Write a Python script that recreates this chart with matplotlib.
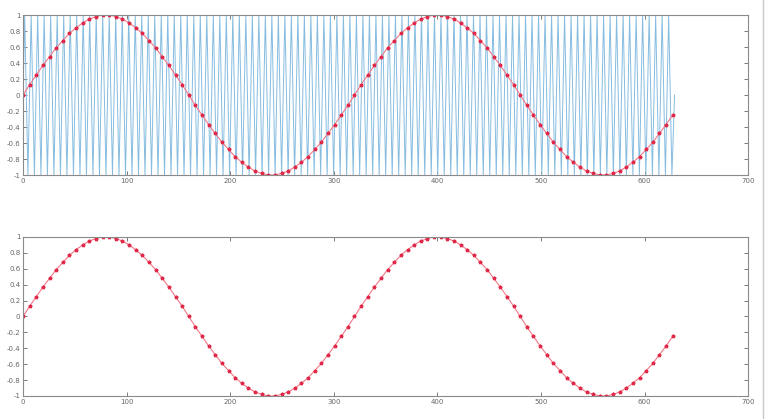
import matplotlib
matplotlib.use('Agg')
import matplotlib.pyplot as plt
import numpy as np

# red samples (every 6.4 units along x)
red_step = 6.4
red_y = [0.0, 0.13, 0.25, 0.37, 0.48, 0.59, 0.68, 0.77, 0.84, 0.90, 0.95, 0.98, 1.0,
         1.0, 0.98, 0.95, 0.90, 0.84, 0.77, 0.68, 0.59, 0.48, 0.37, 0.25, 0.13, 0.0,
         -0.13, -0.25, -0.37, -0.48, -0.59, -0.68, -0.77, -0.84, -0.90, -0.95, -0.98, -1.0,
         -1.0, -0.98, -0.95, -0.90, -0.84, -0.77, -0.68, -0.59, -0.48, -0.37, -0.25, -0.13,
         0.0, 0.13, 0.25, 0.37, 0.48, 0.59, 0.68, 0.77, 0.84, 0.90, 0.95, 0.98, 1.0,
         1.0, 0.98, 0.95, 0.90, 0.84, 0.77, 0.68, 0.59, 0.48, 0.37, 0.25, 0.13, 0.0,
         -0.13, -0.25, -0.37, -0.48, -0.59, -0.68, -0.77, -0.84, -0.90, -0.95, -0.98, -1.0,
         -1.0, -0.98, -0.95, -0.90, -0.84, -0.77, -0.68, -0.59, -0.48, -0.37, -0.25]
red_x = np.arange(len(red_y)) * red_step

# fast blue carrier: turning points every half period (~3.14 units)
blue_half = 3.14
blue_peaks = [1.0, -1.0] * 100
blue_end = (629, 0.0)
blue_x = [0.0] + list(blue_half / 2 + np.arange(len(blue_peaks)) * blue_half) + [blue_end[0]]
blue_y = [0.0] + blue_peaks + [blue_end[1]]

xticks = [0, 100, 200, 300, 400, 500, 600, 700]
yticks = [-1, -0.8, -0.6, -0.4, -0.2, 0, 0.2, 0.4, 0.6, 0.8, 1]
ytick_labels = ['-1', '-0.8', '-0.6', '-0.4', '-0.2', '0', '0.2', '0.4', '0.6', '0.8', '1']

fig = plt.figure(figsize=(7.73, 4.19), dpi=100)
ax1 = fig.add_axes([0.0298, 0.5823, 0.938, 0.3819])
ax2 = fig.add_axes([0.0298, 0.0549, 0.938, 0.3795])

ax1.plot(blue_x, blue_y, color='#86bce0', linewidth=0.7)
for ax in (ax1, ax2):
    ax.plot(red_x, red_y, color='#f27888', linewidth=0.8, marker='*',
            markersize=2.6, markerfacecolor='#e02848', markeredgecolor='#e02848')
    ax.set_xlim(0, 700)
    ax.set_ylim(-1, 1)
    ax.set_xticks(xticks)
    ax.set_xticklabels([str(v) for v in xticks])
    ax.set_yticks(yticks)
    ax.set_yticklabels(ytick_labels)
    ax.tick_params(direction='in', length=3, width=0.6, colors='#666666',
                   labelsize=5, top=True, right=True, pad=2)
    for s in ax.spines.values():
        s.set_color('#8a8a8a')
        s.set_linewidth(0.8)

# window edge on the right of the screenshot
fig.add_artist(plt.Line2D([0.987, 0.987], [0.0, 1.0], color='#c8c8c8', linewidth=1.0))

plt.savefig('out.png', dpi=100)
